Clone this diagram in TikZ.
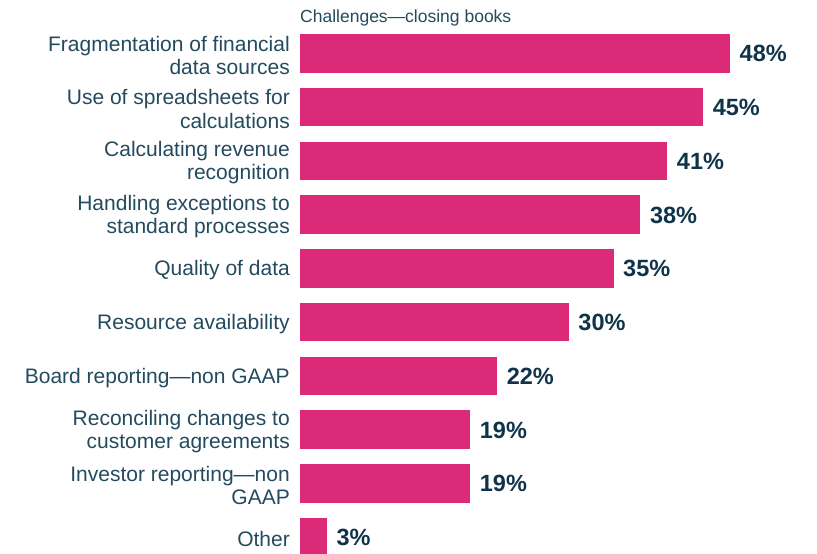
\documentclass[tikz,border=0pt]{standalone}
\usepackage{fontspec}
\setmainfont{Liberation Sans}
\definecolor{barpink}{HTML}{DB2A77}
\definecolor{labelc}{HTML}{234A5E}
\definecolor{valc}{HTML}{0F3449}
\begin{document}
\begin{tikzpicture}[x=1pt,y=-1pt,
  bar/.style={fill=barpink,draw=none,inner sep=0pt,outer sep=0pt,minimum height=38.7pt,anchor=west},
  lab/.style={anchor=east,align=right,text=labelc,inner sep=0pt,yshift=-2pt,font=\fontsize{21}{23.3}\selectfont},
  val/.style={anchor=west,text=valc,inner sep=0pt,text height=16.8pt,text depth=0pt,font=\fontsize{23.5}{26}\selectfont\bfseries},
  ttl/.style={anchor=base west,text=labelc,inner sep=0pt,font=\fontsize{17.5}{20}\selectfont}]
\useasboundingbox (0,0) rectangle (817,554);
\clip (0,0) rectangle (817,554);
\node[ttl] (title) at (300,22) {Challenges—closing books};
\foreach \i/\v/\t in {
  0/48/{Fragmentation of financial\\data sources},
  1/45/{Use of spreadsheets for\\calculations},
  2/41/{Calculating revenue\\recognition},
  3/38/{Handling exceptions to\\standard processes},
  4/35/{Quality of data},
  5/30/{Resource availability},
  6/22/{Board reporting—non GAAP},
  7/19/{Reconciling changes to\\customer agreements},
  8/19/{Investor reporting—non\\GAAP},
  9/3/{Other}} {
  \pgfmathsetmacro\yc{34+53.75*\i+19.35}
  \pgfmathsetmacro\w{8.958*\v}
  \node[bar,minimum width=\w pt] (bar\i) at (300,\yc) {};
  \node[lab] (lab\i) at (290,\yc) {\t};
  \node[val] (val\i) at ([xshift=9.5pt]bar\i.east) {\v\%};
}
\end{tikzpicture}
\end{document}
